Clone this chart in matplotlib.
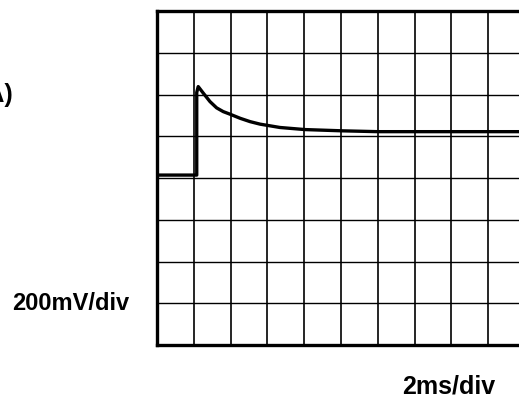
import matplotlib.pyplot as plt
import numpy as np

# trace in screen divisions (x: 2ms/div, y: 200mV/div)
traco_x = [0.0, 1.08, 1.08, 1.12, 1.26, 1.44, 1.62, 1.80, 1.98, 2.26, 2.53, 2.80,
           3.07, 3.34, 3.61, 4.02, 5.03, 6.0, 7.0, 8.0, 9.0, 10.0]
traco_y = [4.07, 4.07, 6.05, 6.19, 6.03, 5.83, 5.68, 5.59, 5.53, 5.43, 5.35, 5.29,
           5.25, 5.21, 5.19, 5.16, 5.13, 5.11, 5.11, 5.11, 5.11, 5.11]

n_div_x = 10
n_div_y = 8

W, H = 519, 398
fig = plt.figure(figsize=(W / 100, H / 100), dpi=100)

# screen area: left edge at 157px, 36.8px per division (runs past the right edge)
esq, topo, base = 157, 11, 345
larg = 36.8 * n_div_x
ax = fig.add_axes([esq / W, (H - base) / H, larg / W, (base - topo) / H])
ax.set_xlim(0, n_div_x)
ax.set_ylim(0, n_div_y)

for k in range(1, n_div_x):
    ax.axvline(k, color="black", lw=1.2)
for k in range(1, n_div_y):
    ax.axhline(k, color="black", lw=1.0)

ax.plot(traco_x, traco_y, color="black", lw=2.4, solid_joinstyle="round")

for lado in ["left", "bottom", "top"]:
    ax.spines[lado].set_linewidth(2.4)
ax.spines["right"].set_visible(False)
ax.set_xticks([])
ax.set_yticks([])

fonte = {"family": "Liberation Sans", "weight": "bold"}
fig.text(12 / W, 1 - 304 / H, "200mV/div", fontsize=17, va="center", ha="left", **fonte)
fig.text(449 / W, 1 - 386 / H, "2ms/div", fontsize=18, va="center", ha="center", **fonte)
fig.text(13 / W, 1 - 95 / H, "(A)", fontsize=18, va="center", ha="right", **fonte)

plt.savefig("out.png", dpi=100)
